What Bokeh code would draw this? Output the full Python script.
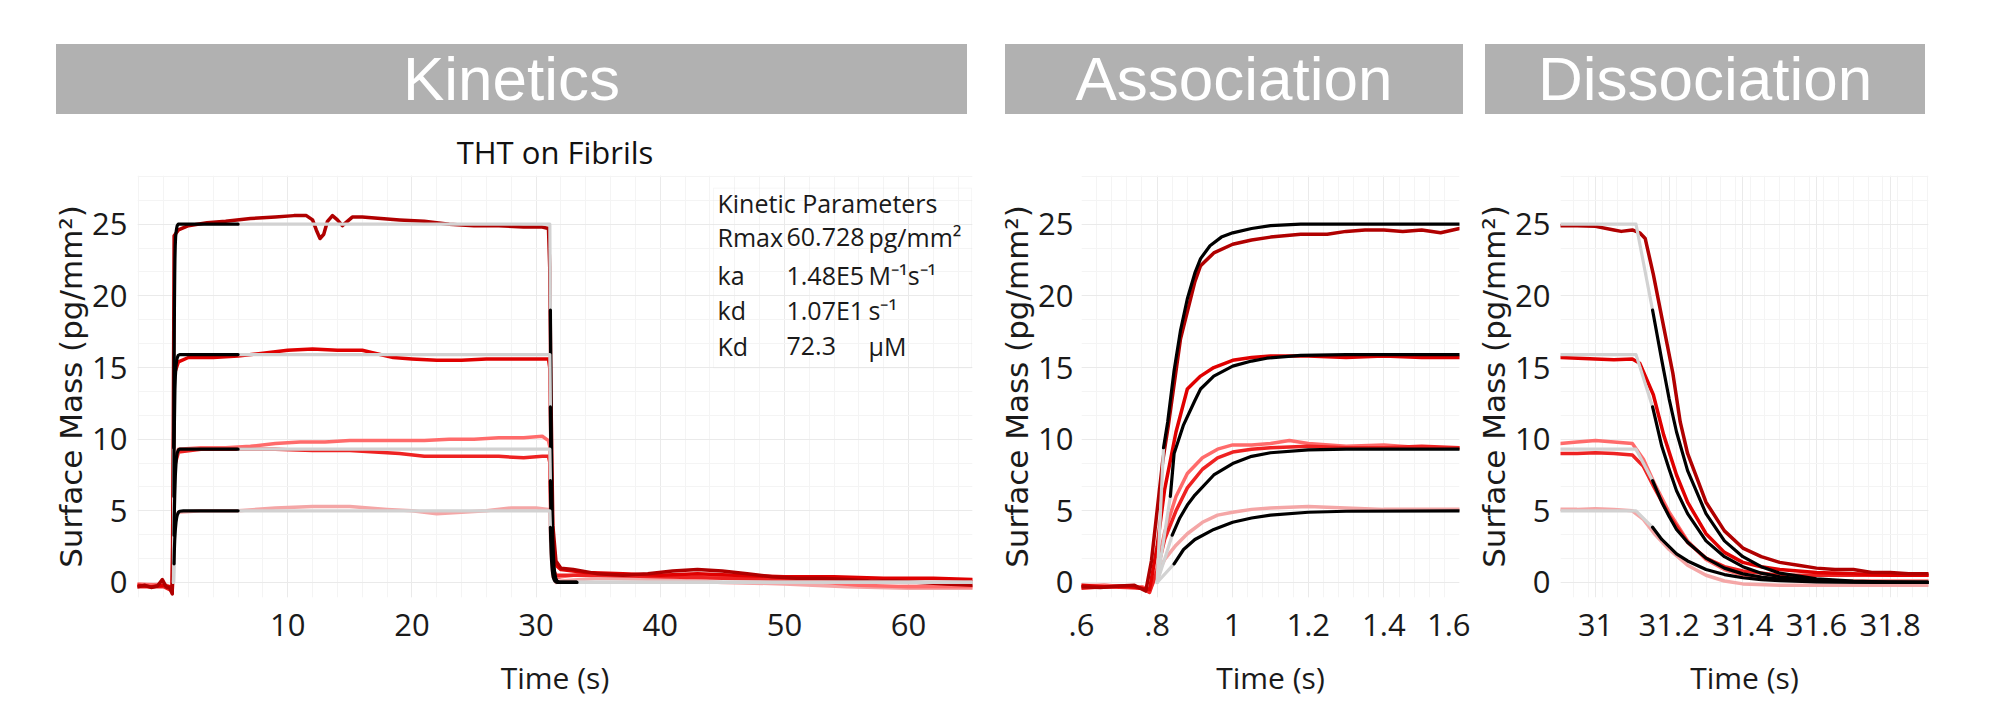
from bokeh.plotting import figure
from bokeh.models import (Range1d, FixedTicker, CustomJSTickFormatter, Div, Spacer,
                          Label, BoxAnnotation)
from bokeh.layouts import row, column
from bokeh.embed import file_html
from bokeh.resources import INLINE

# ---------------- texts ----------------
HEADERS = ["Kinetics", "Association", "Dissociation"]
TITLE = "THT on Fibrils"
X_LABEL = "Time (s)"
Y_LABEL = "Surface Mass (pg/mm\u00b2)"
PARAM_TITLE = "Kinetic Parameters"
PARAM_NAMES = ["Rmax", "ka", "kd", "Kd"]
PARAM_VALUES = ["60.728", "1.48E5", "1.07E1", "72.3"]
PARAM_UNITS = ["pg/mm\u00b2", "M\u207b\u00b9s\u207b\u00b9", "s\u207b\u00b9", "\u00b5M"]

# ---------------- ticks ----------------
Y_TICKS = [0, 5, 10, 15, 20, 25]
KIN_X_TICKS = [10, 20, 30, 40, 50, 60]
ASSOC_X_TICKS = [0.6, 0.8, 1.0, 1.2, 1.4, 1.6]
DISS_X_TICKS = [31.0, 31.2, 31.4, 31.6, 31.8]

# ---------------- kinetics panel: measured traces ----------------
KIN_DR_T = [-2.1, -1.5, -1.0, -0.5, -0.1, 0.2, 0.5, 0.7, 0.78, 0.85, 1.2, 2.0, 3.5, 5.0, 7.0, 9.0,
            10.5, 11.5, 12.0, 12.3, 12.6, 12.9, 13.2, 13.6, 14.0, 14.4, 14.8, 15.2, 16.0, 17.5, 19.0,
            21.0, 23.0, 25.0, 27.0, 29.0, 30.5, 31.0, 31.1, 31.2, 31.35, 31.6, 32.0, 33.0, 35.0,
            37.0, 39.0, 41.0, 43.0, 45.0, 47.0, 49.0, 51.0, 53.0, 55.0, 57.0, 59.0, 61.0, 63.0, 65.15]
KIN_DR_V = [-0.3, -0.2, -0.35, -0.25, 0.2, -0.3, -0.4, -0.8, 10.0, 24.2, 24.6, 24.9, 25.1, 25.2,
            25.4, 25.5, 25.6, 25.6, 25.3, 24.6, 24.0, 24.3, 25.2, 25.6, 25.3, 24.9, 25.2, 25.5, 25.5,
            25.4, 25.3, 25.2, 25.0, 24.9, 24.9, 24.8, 24.8, 24.7, 22.0, 13.0, 4.0, 1.5, 1.0, 0.9,
            0.6, 0.5, 0.6, 0.8, 0.9, 0.8, 0.6, 0.4, 0.3, 0.3, 0.2, 0.1, 0.1, 0.0, -0.1, -0.2]

KIN_RD_T = [-2.1, -1.0, 0.0, 0.5, 0.7, 0.78, 0.85, 1.2, 2.0, 4.0, 6.0, 8.0, 10.0, 12.0, 14.0, 16.0,
            17.0, 18.5, 20.0, 22.0, 24.0, 26.0, 28.0, 30.0, 31.0, 31.1, 31.2, 31.35, 31.6, 32.0,
            34.0, 37.0, 40.0, 43.0, 46.0, 50.0, 54.0, 58.0, 62.0, 65.15]
KIN_RD_V = [-0.2, -0.3, -0.2, -0.3, -0.6, 6.0, 14.5, 15.4, 15.7, 15.7, 15.8, 16.0, 16.2, 16.3, 16.2,
            16.2, 16.0, 15.7, 15.6, 15.5, 15.5, 15.6, 15.6, 15.6, 15.6, 15.0, 9.0, 3.0, 1.2, 0.9,
            0.7, 0.6, 0.5, 0.6, 0.5, 0.4, 0.4, 0.3, 0.3, 0.2]

KIN_SA_T = [-2.1, 0.0, 0.7, 0.78, 0.85, 1.2, 3.0, 5.0, 7.0, 9.0, 11.0, 13.0, 15.0, 17.0, 19.0, 21.0,
            23.0, 25.0, 27.0, 29.0, 30.5, 31.0, 31.1, 31.2, 31.35, 31.6, 32.0, 34.0, 37.0, 40.0,
            44.0, 48.0, 52.0, 56.0, 60.0, 65.15]
KIN_SA_V = [-0.1, -0.2, -0.5, 4.0, 8.5, 9.3, 9.4, 9.4, 9.5, 9.7, 9.8, 9.8, 9.9, 9.9, 9.9, 9.9,
            10.0, 10.0, 10.1, 10.1, 10.2, 9.9, 9.5, 4.0, 0.8, 0.3, 0.4, 0.6, 0.5, 0.5, 0.4, 0.3,
            0.1, -0.2, -0.3, -0.3]

KIN_RB_T = [-2.1, 0.0, 0.7, 0.78, 0.85, 1.2, 3.0, 6.0, 9.0, 12.0, 15.0, 17.0, 19.0, 21.0, 23.0,
            25.0, 27.0, 29.0, 30.5, 31.0, 31.1, 31.2, 31.35, 31.6, 32.0, 35.0, 40.0, 45.0, 50.0,
            55.0, 60.0, 65.15]
KIN_RB_V = [-0.3, -0.3, -0.6, 3.5, 8.0, 9.1, 9.3, 9.3, 9.3, 9.2, 9.2, 9.1, 9.0, 8.8, 8.8, 8.8,
            8.8, 8.7, 8.8, 8.8, 8.4, 4.0, 1.0, 0.5, 0.5, 0.5, 0.4, 0.3, 0.2, 0.1, 0.0, 0.0]

KIN_PK_T = [-2.1, 0.0, 0.7, 0.78, 0.85, 1.2, 3.0, 6.0, 9.0, 12.0, 15.0, 18.0, 20.0, 22.0, 24.0,
            26.0, 28.0, 30.0, 31.0, 31.1, 31.2, 31.35, 31.6, 32.0, 35.0, 40.0, 45.0, 50.0, 55.0,
            60.0, 65.15]
KIN_PK_V = [-0.2, -0.1, -0.4, 2.0, 4.5, 4.9, 5.0, 5.0, 5.2, 5.3, 5.3, 5.1, 5.0, 4.8, 4.9, 5.0,
            5.2, 5.2, 5.1, 4.9, 2.2, 0.4, 0.0, 0.1, 0.3, 0.2, 0.0, -0.1, -0.3, -0.4, -0.4]

# ---------------- association panel: measured traces ----------------
AS_DR_T = [0.60, 0.65, 0.70, 0.74, 0.77, 0.785, 0.80, 0.815, 0.83, 0.862, 0.90, 0.915, 0.95, 1.00,
           1.05, 1.10, 1.18, 1.25, 1.30, 1.35, 1.40, 1.45, 1.50, 1.55, 1.60]
AS_DR_V = [-0.3, -0.35, -0.25, -0.2, -0.6, 1.5, 5.0, 8.5, 11.0, 17.0, 21.0, 22.1, 23.0, 23.6,
           23.9, 24.1, 24.3, 24.3, 24.5, 24.6, 24.6, 24.5, 24.6, 24.4, 24.7]
AS_RD_T = [0.60, 0.66, 0.72, 0.76, 0.78, 0.80, 0.82, 0.85, 0.88, 0.915, 0.95, 1.00, 1.05, 1.10,
           1.20, 1.30, 1.40, 1.50, 1.60]
AS_RD_V = [-0.2, -0.3, -0.25, -0.4, -0.5, 2.5, 6.5, 10.5, 13.5, 14.4, 15.0, 15.5, 15.7, 15.8,
           15.8, 15.7, 15.8, 15.7, 15.7]
AS_SA_T = [0.60, 0.66, 0.72, 0.76, 0.78, 0.80, 0.82, 0.85, 0.88, 0.92, 0.96, 1.00, 1.05, 1.10,
           1.15, 1.20, 1.30, 1.40, 1.50, 1.60]
AS_SA_V = [-0.3, -0.2, -0.3, -0.3, -0.6, 1.0, 3.5, 6.0, 7.6, 8.7, 9.3, 9.6, 9.6, 9.7, 9.9, 9.7,
           9.5, 9.6, 9.4, 9.4]
AS_RB_T = [0.60, 0.66, 0.72, 0.76, 0.78, 0.80, 0.82, 0.85, 0.88, 0.92, 0.96, 1.00, 1.05, 1.10,
           1.20, 1.30, 1.40, 1.50, 1.60]
AS_RB_V = [-0.4, -0.3, -0.35, -0.4, -0.7, 0.8, 3.0, 5.0, 6.6, 7.9, 8.7, 9.1, 9.3, 9.4, 9.5, 9.4,
           9.4, 9.5, 9.4]
AS_PK_T = [0.60, 0.66, 0.72, 0.76, 0.78, 0.80, 0.82, 0.85, 0.88, 0.92, 0.96, 1.00, 1.05, 1.10,
           1.20, 1.30, 1.40, 1.50, 1.60]
AS_PK_V = [-0.2, -0.2, -0.3, -0.3, -0.5, 0.5, 1.6, 2.6, 3.4, 4.2, 4.7, 4.9, 5.1, 5.2, 5.3, 5.2,
           5.1, 5.1, 5.1]

# ---------------- dissociation panel: measured traces ----------------
DS_DR_T = [30.905, 30.95, 31.0, 31.05, 31.07, 31.1, 31.12, 31.135, 31.157, 31.18, 31.21, 31.23,
           31.25, 31.3, 31.35, 31.4, 31.45, 31.5, 31.55, 31.6, 31.65, 31.7, 31.75, 31.8, 31.85, 31.904]
DS_DR_V = [24.9, 24.9, 24.85, 24.6, 24.5, 24.6, 24.4, 24.0, 21.5, 18.5, 14.6, 11.2, 9.0, 5.6, 3.6,
           2.4, 1.8, 1.4, 1.2, 1.0, 0.9, 0.9, 0.7, 0.7, 0.6, 0.6]
DS_RD_T = [30.905, 31.0, 31.05, 31.1, 31.12, 31.157, 31.185, 31.22, 31.25, 31.3, 31.35, 31.4,
           31.45, 31.5, 31.6, 31.7, 31.8, 31.904]
DS_RD_V = [15.7, 15.6, 15.55, 15.6, 15.3, 13.1, 10.3, 7.5, 5.6, 3.4, 2.1, 1.4, 1.1, 0.9, 0.7, 0.6,
           0.5, 0.5]
DS_T = [30.905, 30.95, 31.0, 31.05, 31.1, 31.13, 31.16, 31.2, 31.25, 31.3, 31.35, 31.4, 31.5,
        31.6, 31.7, 31.8, 31.904]
DS_SA_V = [9.7, 9.8, 9.9, 9.8, 9.7, 8.6, 6.9, 4.9, 2.9, 1.6, 0.9, 0.5, 0.2, 0.1, 0.1, 0.1, 0.1]
DS_RB_V = [9.0, 9.0, 9.05, 9.0, 8.9, 8.1, 6.6, 4.7, 2.8, 1.7, 1.1, 0.8, 0.5, 0.5, 0.5, 0.5, 0.5]
DS_PK_V = [5.1, 5.1, 5.15, 5.1, 5.0, 4.4, 3.4, 2.3, 1.2, 0.5, 0.1, -0.1, -0.2, -0.2, -0.2, -0.2, -0.2]

# ---------------- fitted curves ----------------
FIT_LEVELS = [25.0, 15.9, 9.3, 5.0]
FIT_ON_START = 0.80          # injection
FIT_OFF_START = 31.11        # end of injection
FIT_ON_BLACK_END = 6.0       # black part of the fit after injection
FIT_OFF_BLACK_END = 33.3     # black part of the fit after dissociation

FIT_AS_T = [[0.817, 0.828, 0.845, 0.862, 0.88, 0.90, 0.915, 0.94, 0.97, 1.00, 1.05, 1.10, 1.18, 1.30, 1.60],
            [0.835, 0.845, 0.87, 0.90, 0.915, 0.95, 1.00, 1.05, 1.09, 1.18, 1.30, 1.60],
            [0.840, 0.86, 0.88, 0.90, 0.95, 1.00, 1.05, 1.10, 1.20, 1.30, 1.60],
            [0.845, 0.87, 0.90, 0.95, 1.00, 1.05, 1.10, 1.20, 1.30, 1.60]]
FIT_AS_V = [[9.4, 11.2, 14.8, 17.6, 19.8, 21.6, 22.6, 23.5, 24.1, 24.4, 24.7, 24.9, 25.0, 25.0, 25.0],
            [6.0, 9.0, 11.0, 12.7, 13.5, 14.4, 15.1, 15.45, 15.65, 15.85, 15.9, 15.9],
            [3.3, 4.5, 5.4, 6.1, 7.5, 8.3, 8.8, 9.05, 9.25, 9.3, 9.3],
            [1.3, 2.3, 3.0, 3.7, 4.2, 4.5, 4.7, 4.9, 4.97, 5.0]]

FIT_DS_T = [31.155, 31.18, 31.2, 31.22, 31.25, 31.3, 31.35, 31.4, 31.45, 31.5, 31.6, 31.7, 31.8, 31.904]
FIT_DS_V = [[19.0, 15.5, 12.8, 10.5, 7.8, 4.8, 2.9, 1.8, 1.1, 0.65, 0.25, 0.09, 0.03, 0.0],
            [12.25, 9.5, 7.9, 6.4, 4.8, 2.9, 1.8, 1.1, 0.65, 0.4, 0.15, 0.05, 0.02, 0.0],
            [7.1, 5.6, 4.6, 3.7, 2.8, 1.7, 1.0, 0.6, 0.38, 0.23, 0.08, 0.03, 0.01, 0.0],
            [3.85, 3.0, 2.5, 2.0, 1.5, 0.9, 0.55, 0.33, 0.2, 0.12, 0.04, 0.02, 0.0, 0.0]]

# ---------------- style ----------------
C_DR, C_RD, C_SA, C_RB, C_PK = "#b00000", "#e00000", "#ff6b6b", "#ee2222", "#f4a6a6"
C_FIT_GRAY, C_FIT_BLACK = "#d2d2d2", "#000000"
TXT = "#1a1a1a"
TICK_FONT = "Open Sans"
LABEL_FONT = "DejaVu Sans"
HEAD_FONT = "Liberation Sans"

Y_RANGE = (-1.05, 28.4)
KIN_RANGE = (-2.1, 65.15)
AS_RANGE = (0.6, 1.6)
DS_RANGE = (30.905, 31.904)
FIG_H = 586
BORDER_TOP, BORDER_BOTTOM = 61, 93
FRAME_H = FIG_H - BORDER_TOP - BORDER_BOTTOM


def make_fig(width, left, right, xr, xticks, xminor, yminor, fmt=None):
    p = figure(width=width, height=FIG_H, x_range=Range1d(*xr), y_range=Range1d(*Y_RANGE),
               output_backend="svg", toolbar_location=None,
               min_border_left=left, min_border_right=right,
               min_border_top=BORDER_TOP, min_border_bottom=BORDER_BOTTOM)
    p.outline_line_color = None
    p.background_fill_color = "white"
    p.xaxis.ticker = FixedTicker(ticks=xticks, minor_ticks=xminor)
    p.yaxis.ticker = FixedTicker(ticks=Y_TICKS, minor_ticks=yminor)
    if fmt is not None:
        p.xaxis.formatter = fmt
    for ax in (p.xaxis, p.yaxis):
        ax.axis_line_color = None
        ax.major_tick_line_color = None
        ax.minor_tick_line_color = None
        ax.major_label_text_font = TICK_FONT
        ax.major_label_text_font_size = "31px"
        ax.major_label_text_color = TXT
        ax.axis_label_text_font_style = "normal"
        ax.axis_label_text_color = TXT
    p.xaxis.axis_label = X_LABEL
    p.xaxis.axis_label_text_font = TICK_FONT
    p.xaxis.axis_label_text_font_size = "30px"
    p.xaxis.major_label_standoff = 10
    p.xaxis.axis_label_standoff = 18
    p.yaxis.axis_label = Y_LABEL
    p.yaxis.axis_label_text_font = LABEL_FONT
    p.yaxis.axis_label_text_font_size = "31px"
    p.yaxis.major_label_standoff = 4
    p.yaxis.axis_label_standoff = 0
    for g in (p.xgrid, p.ygrid):
        g.grid_line_color = "#eaeaea"
        g.minor_grid_line_color = "#f4f4f4"
    return p


def draw_line(p, xs, ys, color, w):
    p.line(xs, ys, line_color=color, line_width=w, line_join="round", line_cap="round")


DATA_W = 3.5
FIT_W = 3.2

# ---------- Kinetics ----------
kin_minor = [v * 2 for v in range(-1, 33)]
y_minor = [v * 5.0 / 3.0 for v in range(0, 18)]
p1 = make_fig(982, 129, 18, KIN_RANGE, KIN_X_TICKS, kin_minor, y_minor)
p1.title.text = TITLE
p1.title.align = "center"
p1.title.text_font = TICK_FONT
p1.title.text_font_size = "31px"
p1.title.text_font_style = "normal"
p1.title.text_color = "#111111"
p1.title.standoff = 6

for xs, ys, c in [(KIN_PK_T, KIN_PK_V, C_PK), (KIN_SA_T, KIN_SA_V, C_SA), (KIN_RB_T, KIN_RB_V, C_RB),
                  (KIN_RD_T, KIN_RD_V, C_RD), (KIN_DR_T, KIN_DR_V, C_DR)]:
    draw_line(p1, xs, ys, c, DATA_W)

for i, L in enumerate(FIT_LEVELS):
    at, av = FIT_AS_T[i], FIT_AS_V[i]
    draw_line(p1, [FIT_ON_START, at[0]], [0, av[0]], C_FIT_GRAY, FIT_W)
    draw_line(p1, [FIT_ON_BLACK_END, FIT_OFF_START, FIT_DS_T[0]], [L, L, FIT_DS_V[i][0]], C_FIT_GRAY, FIT_W)
    draw_line(p1, [FIT_OFF_BLACK_END, KIN_RANGE[1]], [0, 0], C_FIT_GRAY, FIT_W)
    draw_line(p1, at + [FIT_ON_BLACK_END], av + [L], C_FIT_BLACK, FIT_W)
    draw_line(p1, FIT_DS_T + [FIT_OFF_BLACK_END], FIT_DS_V[i] + [0.0], C_FIT_BLACK, FIT_W)

# kinetic parameter box: placed in frame pixels, converted to data units
K_FRAME_W = 982 - 129 - 18


def kx(px_from_frame_left):
    return KIN_RANGE[0] + px_from_frame_left / K_FRAME_W * (KIN_RANGE[1] - KIN_RANGE[0])


def ky(px_from_frame_top):
    return Y_RANGE[1] - px_from_frame_top / FRAME_H * (Y_RANGE[1] - Y_RANGE[0])


p1.add_layout(BoxAnnotation(left=kx(576), right=kx(834), top=ky(13), bottom=ky(197),
                            fill_alpha=0, line_color="#e4e4e4", line_width=1))
lab_kw = dict(text_font=TICK_FONT, text_font_size="25px", text_color=TXT,
              text_baseline="middle", text_align="left")
p1.add_layout(Label(x=kx(580), y=ky(28), text=PARAM_TITLE, **lab_kw))
for j, py in enumerate([63, 102, 138, 175]):
    p1.add_layout(Label(x=kx(580), y=ky(py), text=PARAM_NAMES[j], **lab_kw))
    p1.add_layout(Label(x=kx(649), y=ky(py), text=PARAM_VALUES[j], **lab_kw))
    p1.add_layout(Label(x=kx(731), y=ky(py), text=PARAM_UNITS[j], **lab_kw))

# ---------- Association ----------
fmt_as = CustomJSTickFormatter(code="""
const s = (Math.round(tick*10)/10).toString();
return s.startsWith('0.') ? s.slice(1) : s;""")
as_minor = [0.6 + v * 0.04 for v in range(0, 26)]
p2 = make_fig(480, 91, 11, AS_RANGE, ASSOC_X_TICKS, as_minor, y_minor, fmt_as)
p2.yaxis.major_label_standoff = 2

for xs, ys, c in [(AS_PK_T, AS_PK_V, C_PK), (AS_SA_T, AS_SA_V, C_SA), (AS_RB_T, AS_RB_V, C_RB),
                  (AS_RD_T, AS_RD_V, C_RD), (AS_DR_T, AS_DR_V, C_DR)]:
    draw_line(p2, xs, ys, c, DATA_W)
for i, L in enumerate(FIT_LEVELS):
    at, av = FIT_AS_T[i], FIT_AS_V[i]
    draw_line(p2, [FIT_ON_START, at[0]], [0, av[0]], C_FIT_GRAY, FIT_W)
    draw_line(p2, at, av, C_FIT_BLACK, FIT_W)

# ---------- Dissociation ----------
fmt_ds = CustomJSTickFormatter(code="""
return (Math.round(tick*10)/10).toString();""")
ds_minor = [30.9 + v * 0.04 for v in range(0, 26)]
p3 = make_fig(512, 90, 54, DS_RANGE, DISS_X_TICKS, ds_minor, y_minor, fmt_ds)
for xs, ys, c in [(DS_T, DS_PK_V, C_PK), (DS_T, DS_SA_V, C_SA), (DS_T, DS_RB_V, C_RB),
                  (DS_RD_T, DS_RD_V, C_RD), (DS_DR_T, DS_DR_V, C_DR)]:
    draw_line(p3, xs, ys, c, DATA_W)
for i, L in enumerate(FIT_LEVELS):
    draw_line(p3, [DS_RANGE[0], FIT_OFF_START, FIT_DS_T[0]], [L, L, FIT_DS_V[i][0]], C_FIT_GRAY, FIT_W)
    draw_line(p3, FIT_DS_T, FIT_DS_V[i], C_FIT_BLACK, FIT_W)


# ---------- headers ----------
def header(text, w):
    html = (f'<div style="box-sizing:border-box;width:{w}px;height:70px;margin-top:36px;'
            f'background:#b1b1b1;color:#ffffff;font-family:\'{HEAD_FONT}\',Arial,sans-serif;'
            f'font-size:62px;line-height:70px;text-align:center;white-space:nowrap;">{text}</div>')
    return Div(text=html, width=w, height=106, margin=0)


head_row = row(Spacer(width=48, height=106, margin=0), header(HEADERS[0], 911),
               Spacer(width=38, height=106, margin=0), header(HEADERS[1], 458),
               Spacer(width=22, height=106, margin=0), header(HEADERS[2], 440), spacing=0)
fig_row = row(p1, p2, p3, spacing=0)
inner = column(head_row, fig_row, spacing=0)
page = column(Spacer(width=10, height=8, margin=0),
              row(Spacer(width=8, height=10, margin=0), inner, spacing=0), spacing=0)

open("out.html", "w").write(file_html(page, INLINE))
